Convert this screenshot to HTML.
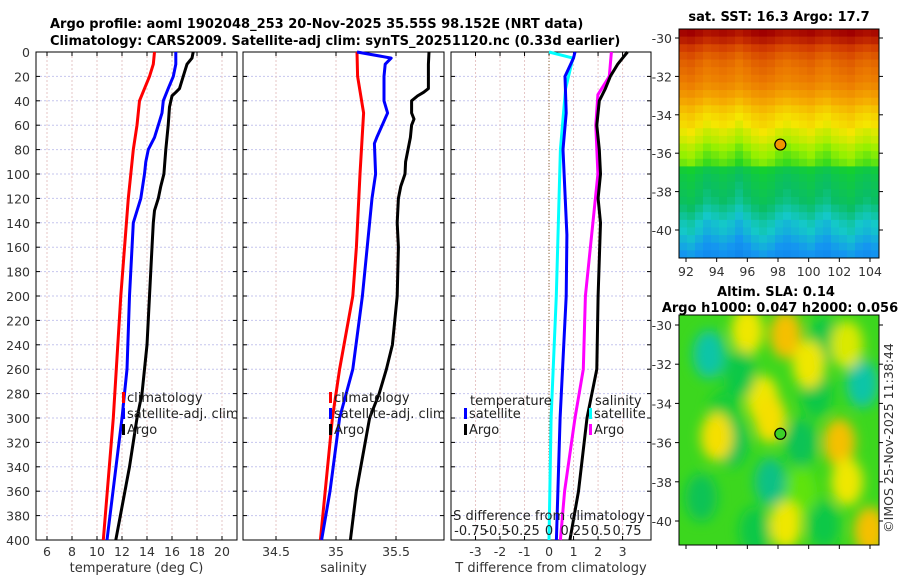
<!DOCTYPE html>
<html><head><meta charset="utf-8">
<style>
body{margin:0;background:#fff;}
svg{display:block;font-family:"DejaVu Sans","Liberation Sans",sans-serif;}
</style></head>
<body>
<svg id="c" width="900" height="580" viewBox="0 0 900 580">
<defs>
<filter id="blur" x="-50%" y="-50%" width="200%" height="200%"><feGaussianBlur stdDeviation="6"/></filter>
<clipPath id="clipSla"><rect x="679" y="315" width="200" height="230"/></clipPath>
</defs>
<text x="50" y="28" font-size="13" font-weight="bold">Argo profile: aoml 1902048_253 20-Nov-2025 35.55S 98.152E (NRT data)</text>
<text x="50" y="45" font-size="13" font-weight="bold">Climatology: CARS2009. Satellite-adj clim: synTS_20251120.nc (0.33d earlier)</text>
<text x="779" y="21" text-anchor="middle" font-size="13" font-weight="bold">sat. SST: 16.3 Argo: 17.7</text>
<text x="776" y="296" text-anchor="middle" font-size="13" font-weight="bold">Altim. SLA: 0.14</text>
<text x="780" y="312" text-anchor="middle" font-size="13" font-weight="bold">Argo h1000: 0.047 h2000: 0.056</text>
<text transform="translate(893,438) rotate(-90)" text-anchor="middle" font-size="12.5" fill="#333">©IMOS 25-Nov-2025 11:38:44</text>
<g id="g"></g>
</svg>
<script>
// ---- profile data ----
const depthsRedT = [0,10,20,30,40,60,80,100,120,200,300,400];
const tempClim   = [14.6,14.5,14.2,13.8,13.4,13.2,12.9,12.7,12.5,11.9,11.3,10.5];
const depthsBlueT = [0,10,20,30,40,50,60,70,80,90,100,120,140,200,260,300,400];
const tempSat     = [16.3,16.3,16.1,15.7,15.3,15.2,14.9,14.6,14.1,13.9,13.8,13.5,12.9,12.6,12.4,12.0,10.8];
const depthsArgoT = [0,5,10,20,30,33,36,45,60,80,100,110,120,130,140,160,200,240,280,300,340,400];
const tempArgo    = [17.7,17.6,17.2,16.9,16.6,16.3,16.0,15.8,15.7,15.5,15.35,15.1,14.9,14.6,14.5,14.4,14.2,14.0,13.6,13.2,12.6,11.5];

const depthsRedS = [0,20,50,100,160,200,260,300,400];
const salClim    = [35.175,35.18,35.23,35.2,35.17,35.14,35.03,34.97,34.87];
const depthsBlueS = [0,5,10,20,40,50,70,75,100,120,160,200,260,300,360,400];
const salSat      = [35.175,35.46,35.41,35.4,35.4,35.43,35.34,35.32,35.33,35.3,35.26,35.22,35.14,35.03,34.95,34.88];
const depthsArgoS = [0,10,30,33,36,40,50,55,60,70,80,90,100,110,120,140,160,200,240,260,280,300,360,400];
const salArgo     = [35.775,35.77,35.77,35.73,35.68,35.63,35.63,35.65,35.63,35.62,35.6,35.58,35.575,35.54,35.52,35.51,35.52,35.51,35.47,35.42,35.36,35.28,35.17,35.12];

const depthsTd = [0,5,20,50,80,150,200,300,400];
const tdiffSat = [1.06,1.0,0.65,0.7,0.57,0.73,0.7,0.45,0.3];
const depthsTdA = [0,5,10,20,30,40,60,80,100,120,140,200,260,300,360,400];
const tdiffArgo = [3.2,3.0,2.8,2.5,2.3,2.05,1.95,2.05,2.1,2.0,2.1,2.0,1.95,1.55,1.2,0.85];
const depthsSd = [0,5,30,80,200,300,400];
const sdiffSat = [0,0.23,0.16,0.11,0.07,0.02,0];
const depthsSdA = [0,20,35,60,100,200,260,300,360,400];
const sdiffArgo = [0.6,0.58,0.47,0.45,0.47,0.35,0.33,0.25,0.15,0.11];

const depthTicks = [0,20,40,60,80,100,120,140,160,180,200,220,240,260,280,300,320,340,360,380,400];
const tTicks = [6,8,10,12,14,16,18,20];
const sTicks = [34.5,35,35.5];
const dTicks = [-3,-2,-1,0,1,2,3];
const sdLabels = ["-0.75","-0.5","-0.25","0","0.25","0.5","0.75"];
const sdTicks = [-0.75,-0.5,-0.25,0,0.25,0.5,0.75];

// SST map: row values (top->bottom) and column offsets
const sstRows = [0.97,0.92,0.86,0.82,0.79,0.77,0.75,0.72,0.68,0.64,0.6,0.57,0.55,0.52,0.5,0.47,0.45,0.43,0.36,0.34,0.33,0.32,0.31,0.29,0.27,0.25,0.24,0.22,0.2,0.18];
const sstCols = [0.02,0.03,0.01,-0.01,0.0,0.01,0.0,-0.02,0.0,0.02,0.03,0.02,0.0,-0.01,0.0,0.01,0.02,0.0,-0.01,0.01,0.02,0.03,0.01,0.0,0.01];
// SLA blobs: lon, lat, level (0 cyan-green ... 1 orange)
const slaLon = [93.5,96,98.5,101,103.5,94.5,97,100.5,102,95,97.5,99.5,102.5,93,96.5,98.5,101,104,94,97.5,99.5,100,95.5,102.5];
const slaLat = [-31.5,-30.3,-30.5,-30.8,-33,-34.5,-33.8,-33.5,-36,-36,-38,-38.5,-38,-38.8,-40.5,-40.2,-40.2,-40.5,-35.7,-34.8,-36,-32,-32.5,-31];
const slaVal = [0.0,0.6,0.8,0.2,0.0,0.25,0.6,0.2,0.8,0.15,0.05,0.3,0.6,0.15,0.2,0.6,0.2,0.8,0.65,0.65,0.15,0.6,0.2,0.55];

const NS='http://www.w3.org/2000/svg';
const G=document.getElementById('g');
function mk(tag,attrs,parent){const e=document.createElementNS(NS,tag);for(const k in attrs)e.setAttribute(k,attrs[k]);(parent||G).appendChild(e);return e;}

const Y0=52, Y1=540;
const yD = d => Y0 + d*(Y1-Y0)/400;
const panels = [
 {x0:36,x1:237,min:5.12,max:21.2,name:'temperature'},
 {x0:243,x1:444,min:34.225,max:35.9,name:'salinity'},
 {x0:451,x1:651,min:-4.0,max:4.16,name:'difference'}];
const xS = (p,v)=> p.x0 + (v-p.min)*(p.x1-p.x0)/(p.max-p.min);
const xSd = s => 549 + s*104;

function drawPanel(p,ticks,labels,title,pi){
  const g=mk('g',{});
  
  
  depthTicks.forEach(d=>{mk('line',{x1:p.x0,x2:p.x1,y1:yD(d),y2:yD(d),stroke:'#c6c6ee','stroke-width':1,'stroke-dasharray':'2,2'},g);
    mk('line',{x1:p.x0,x2:p.x0+4,y1:yD(d),y2:yD(d),stroke:'#000'},g);mk('line',{x1:p.x1-4,x2:p.x1,y1:yD(d),y2:yD(d),stroke:'#000'},g);
    if(pi===0){const t=mk('text',{x:30,y:yD(d)+5,'text-anchor':'end','font-size':12.5,fill:'#333'},g);t.textContent=d;}
  });
  ticks.forEach((v,i)=>{const x=xS(p,v);
    mk('line',{x1:x,x2:x,y1:Y0,y2:Y1,stroke:'#e6c6c6','stroke-width':1,'stroke-dasharray':'2,2'},g);
    mk('line',{x1:x,x2:x,y1:Y1-4,y2:Y1,stroke:'#000'},g);mk('line',{x1:x,x2:x,y1:Y0,y2:Y0+4,stroke:'#000'},g);
    const t=mk('text',{x:x,y:556,'text-anchor':'middle','font-size':12.5,fill:'#333'},g);t.textContent=labels[i];
  });
  mk('rect',{x:p.x0,y:Y0,width:p.x1-p.x0,height:Y1-Y0,fill:'none',stroke:'#000','stroke-width':1},g);
  const tt=mk('text',{x:(p.x0+p.x1)/2,y:572,'text-anchor':'middle','font-size':13,fill:'#333'},g);tt.textContent=title;
  
  
  return g;
}
function line(xf,vals,deps,color,name,w){
  const pts=vals.map((v,i)=>xf(v).toFixed(1)+','+yD(deps[i]).toFixed(1)).join(' ');
  const e=mk('polyline',{points:pts,fill:'none',stroke:color,'stroke-width':w||3,'stroke-linejoin':'round'});
  
  
}
const p0=panels[0],p1=panels[1],p2=panels[2];
drawPanel(p0,tTicks,tTicks,'temperature (deg C)',0);
drawPanel(p1,sTicks,sTicks,'salinity',1);
drawPanel(p2,dTicks,dTicks,'T difference from climatology',2);
mk('line',{x1:549,x2:549,y1:Y0,y2:Y1,stroke:'#8a6a3a','stroke-width':1,'stroke-dasharray':'1,2'});

line(v=>xS(p0,v),tempClim,depthsRedT,'#f00','temp-climatology-line');
line(v=>xS(p0,v),tempSat,depthsBlueT,'#00f','temp-satellite-line');
line(v=>xS(p0,v),tempArgo,depthsArgoT,'#000','temp-argo-line');
line(v=>xS(p1,v),salClim,depthsRedS,'#f00','sal-climatology-line');
line(v=>xS(p1,v),salSat,depthsBlueS,'#00f','sal-satellite-line');
line(v=>xS(p1,v),salArgo,depthsArgoS,'#000','sal-argo-line');
line(xSd,sdiffSat,depthsSd,'#0ff','sdiff-satellite-line');
line(xSd,sdiffArgo,depthsSdA,'#f0f','sdiff-argo-line');
line(v=>xS(p2,v),tdiffSat,depthsTd,'#00f','tdiff-satellite-line');
line(v=>xS(p2,v),tdiffArgo,depthsTdA,'#000','tdiff-argo-line');

// S-diff labels
const sdt=mk('text',{x:549,y:520,'text-anchor':'middle','font-size':13,fill:'#222'});sdt.textContent='S difference from climatology';


sdTicks.forEach((s,i)=>{const t=mk('text',{x:xSd(s),y:535,'text-anchor':'middle','font-size':13,fill:'#222'});t.textContent=sdLabels[i];});

function legend(x,y,color,label,name){
  const g=mk('g',{});
  
  
  mk('rect',{x:x,y:y-9,width:3,height:11,fill:color},g);
  const t=mk('text',{x:x+5,y:y+1,'font-size':13,fill:'#222'},g);t.textContent=label;
}
legend(122,401,'#f00','climatology','legend-climatology');
legend(122,417,'#00f','satellite-adj. clim','legend-satellite');
legend(122,433,'#000','Argo','legend-argo');
legend(329,401,'#f00','climatology','legend-climatology-2');
legend(329,417,'#00f','satellite-adj. clim','legend-satellite-2');
legend(329,433,'#000','Argo','legend-argo-2');
const lt=mk('text',{x:470,y:405,'font-size':13,fill:'#222'});lt.textContent='temperature';
legend(464,417,'#00f','satellite','legend-t-satellite');
legend(464,433,'#000','Argo','legend-t-argo');
const ls=mk('text',{x:595,y:405,'font-size':13,fill:'#222'});ls.textContent='salinity';
legend(589,417,'#0ff','satellite','legend-s-satellite');
legend(589,433,'#f0f','Argo','legend-s-argo');

// colormap
const stops=[[0,[0,80,230]],[0.2,[20,150,240]],[0.26,[20,200,200]],[0.32,[10,190,100]],[0.4,[20,210,40]],[0.47,[150,240,0]],[0.55,[245,230,0]],[0.65,[245,170,0]],[0.77,[235,120,0]],[0.88,[210,60,0]],[1,[160,0,0]]];
function cmap(v){v=Math.max(0,Math.min(1,v));for(let i=1;i<stops.length;i++){if(v<=stops[i][0]){const a=stops[i-1],b=stops[i],t=(v-a[0])/(b[0]-a[0]);return 'rgb('+a[1].map((c,k)=>Math.round(c+(b[1][k]-c)*t)).join(',')+')';}}return 'rgb(160,0,0)';}

// map axes
const MX0=679,MX1=879;
const lonX = lon => 686 + (lon-92)*(870-686)/12;
function mapAxes(y0,y1,latY,name,showLabels){
  const g=mk('g',{});
  
  
  mk('rect',{x:MX0,y:y0,width:MX1-MX0,height:y1-y0,fill:'none',stroke:'#000'},g);
  [-30,-32,-34,-36,-38,-40].forEach(l=>{const y=latY(l);mk('line',{x1:MX0-4,x2:MX0,y1:y,y2:y,stroke:'#000'},g);mk('line',{x1:MX1,x2:MX1+4,y1:y,y2:y,stroke:'#000'},g);
    const t=mk('text',{x:MX0-7,y:y+5,'text-anchor':'end','font-size':12.5,fill:'#333'},g);t.textContent=l;});
  [92,94,96,98,100,102,104].forEach(lo=>{const x=lonX(lo);mk('line',{x1:x,x2:x,y1:y1,y2:y1+4,stroke:'#000'},g);
    if(showLabels){const t=mk('text',{x:x,y:y1+18,'text-anchor':'middle','font-size':12.5,fill:'#333'},g);t.textContent=lo;}});
}
// SST map
const sstY = lat => 38 + (-30-lat)*19.2;
const rowsN=sstRows.length, colsN=sstCols.length;
const sg=mk('g',{});


const ch=(258-29)/rowsN, cw=(MX1-MX0)/colsN;
sstRows.forEach((rv,r)=>sstCols.forEach((cv,c)=>{
  mk('rect',{x:(MX0+c*cw).toFixed(2),y:(29+r*ch).toFixed(2),width:(cw+0.5).toFixed(2),height:(ch+0.5).toFixed(2),fill:cmap(rv+cv)},sg);
}));
mapAxes(29,258,sstY,'sst-map-axes',true);
const d1=mk('circle',{cx:lonX(98.152),cy:sstY(-35.55),r:5.5,fill:cmap(0.7),stroke:'#000','stroke-width':1.2});



// SLA map
const slaY = lat => 325 + (-30-lat)*19.6;
const lg=mk('g',{'clip-path':'url(#clipSla)'});


mk('rect',{x:MX0,y:315,width:200,height:230,fill:'rgb(60,215,30)'},lg);
const bg=mk('g',{filter:'url(#blur)'},lg);
slaLon.forEach((lo,i)=>{
  const v=slaVal[i];
  const col = v<0.3 ? cmap(0.28+v*0.4) : cmap(0.44+(v-0.3)*0.35);
  mk('ellipse',{cx:lonX(lo),cy:slaY(slaLat[i]),rx:16,ry:24,fill:col},bg);
});
mapAxes(315,545,slaY,'sla-map-axes',false);
const d2=mk('circle',{cx:lonX(98.152),cy:slaY(-35.55),r:5.5,fill:'rgb(60,210,40)',stroke:'#000','stroke-width':1.2});


</script>
</body></html>
